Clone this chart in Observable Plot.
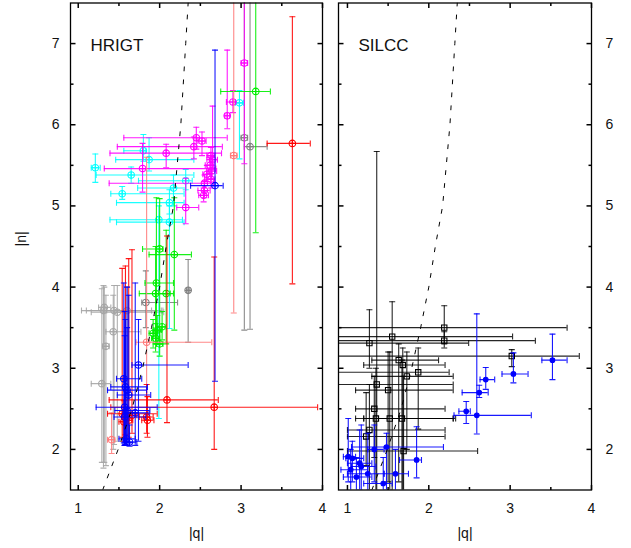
<!DOCTYPE html>
<html><head><meta charset="utf-8">
<script src="https://cdn.jsdelivr.net/npm/d3@7"></script>
<script src="https://cdn.jsdelivr.net/npm/@observablehq/plot@0.6"></script>
<style>
body{margin:0;background:#fff;}
#wrap{display:flex;width:631px;height:548px;overflow:hidden;}
svg{display:block;}
</style></head><body><div id="wrap"></div>
<script>
// ---- tick labels / axes ----
const xTicks = [1, 2, 3, 4];
const xMinorTicks = [1.5, 2.5, 3.5];
const yTicks = [2, 3, 4, 5, 6, 7];
const yMinorTicks = [2.5, 3.5, 4.5, 5.5, 6.5];
const panelNames = ["HRIGT", "SILCC"];
const xLabel = "|q|";
const yLabel = "|n|";

// ---- dashed reference curve (|q| at given |n|) ----
const curveN = [1.5, 2.0, 2.5, 3.0, 3.5, 4.0, 4.5, 5.0, 6.0, 7.0, 7.5];
const curveQ = [1.30, 1.49, 1.66, 1.79, 1.90, 2.00, 2.08, 2.17, 2.26, 2.32, 2.35];

// rows: [q, n, qLow, qHigh, nLow, nHigh]
const hrigtGray = [
  [1.32, 3.75, 1.25, 1.40, 1.84, 4.00],
  [1.31, 3.71, 1.04, 2.04, 1.77, 4.02],
  [1.44, 3.71, 1.10, 1.90, 2.06, 4.02],
  [1.48, 3.69, 1.16, 2.05, 2.10, 4.02],
  [1.60, 3.71, 1.35, 2.02, 2.20, 4.00],
  [1.43, 3.45, 1.34, 1.77, 2.00, 3.90],
  [1.34, 3.27, 1.30, 1.38, 1.80, 3.90],
  [1.29, 2.81, 1.16, 1.40, 1.84, 3.98]
];
const hrigtGrayDark = [
  [3.04, 5.84, 3.00, 3.08, 3.47, 8.00],
  [3.11, 5.73, 3.04, 3.32, 3.48, 8.00],
  [2.35, 3.96, 2.33, 2.37, 3.32, 4.34],
  [1.83, 3.81, 1.78, 2.22, 3.50, 4.20]
];
const hrigtCyan = [
  [1.21, 5.47, 1.16, 1.27, 5.29, 5.64],
  [1.65, 5.38, 1.22, 2.42, 5.28, 5.48],
  [1.80, 5.68, 1.56, 1.83, 5.55, 5.88],
  [1.87, 5.57, 1.46, 2.42, 5.43, 5.84],
  [1.54, 5.15, 1.40, 2.30, 5.08, 5.24],
  [2.17, 5.22, 1.73, 2.32, 5.00, 5.38],
  [2.12, 5.04, 1.47, 2.30, 4.90, 5.20],
  [1.99, 4.83, 1.39, 2.28, 2.38, 5.00],
  [2.12, 4.80, 1.47, 2.30, 3.49, 5.00],
  [2.98, 6.27, 2.93, 3.03, 5.58, 6.42],
  [2.32, 5.31, 1.74, 2.40, 5.20, 5.45]
];
const hrigtMagenta = [
  [3.04, 6.76, 3.00, 3.08, 5.52, 8.00],
  [2.90, 6.28, 2.82, 2.93, 6.15, 6.42],
  [2.83, 6.11, 2.80, 2.86, 5.95, 6.92],
  [2.45, 5.84, 1.56, 2.83, 5.70, 5.97],
  [2.52, 5.80, 2.47, 2.57, 5.62, 5.91],
  [2.42, 5.73, 1.48, 2.77, 5.58, 5.85],
  [2.08, 5.65, 1.39, 2.76, 5.47, 5.76],
  [2.63, 5.62, 2.58, 2.68, 5.50, 5.72],
  [2.65, 5.57, 2.58, 2.71, 5.47, 6.23],
  [2.62, 5.50, 2.56, 2.68, 5.40, 5.60],
  [2.64, 5.43, 2.58, 2.70, 5.33, 5.55],
  [2.58, 5.39, 2.53, 2.64, 5.30, 5.50],
  [2.63, 5.33, 2.57, 2.68, 5.22, 5.45],
  [2.55, 5.28, 1.38, 2.66, 5.18, 5.38],
  [2.55, 5.19, 2.47, 2.62, 5.10, 5.30],
  [2.54, 5.13, 2.48, 2.60, 5.05, 5.22],
  [1.79, 5.46, 1.32, 2.69, 5.17, 5.77],
  [2.32, 4.98, 2.21, 2.48, 4.78, 5.34]
];
const hrigtGreen = [
  [3.18, 6.41, 2.75, 3.36, 4.67, 8.00],
  [2.00, 4.47, 1.79, 2.04, 3.30, 5.09],
  [2.18, 4.40, 1.87, 2.39, 3.47, 5.10],
  [1.96, 4.05, 1.82, 2.17, 3.30, 5.10],
  [1.95, 3.92, 1.75, 2.13, 3.30, 4.50],
  [2.08, 3.92, 1.95, 2.17, 3.30, 4.70],
  [2.03, 3.51, 1.97, 2.08, 3.35, 3.70],
  [1.97, 3.47, 1.92, 2.02, 3.30, 3.65],
  [1.92, 3.43, 1.87, 1.97, 3.25, 3.60],
  [1.95, 3.37, 1.90, 2.00, 3.20, 3.55],
  [2.00, 3.30, 1.96, 2.04, 3.15, 3.45]
];
const hrigtRedPale = [
  [2.91, 5.62, 2.87, 2.95, 3.68, 8.00],
  [1.84, 3.32, 1.71, 2.64, 2.40, 5.60],
  [1.41, 2.12, 1.36, 1.45, 1.95, 2.45]
];
const hrigtRed = [
  [3.63, 5.77, 3.32, 3.85, 4.04, 7.33],
  [2.09, 2.61, 1.38, 2.72, 2.33, 4.63],
  [2.67, 2.52, 1.40, 3.94, 2.00, 4.37],
  [1.54, 2.44, 1.36, 1.97, 2.15, 4.23],
  [1.58, 2.40, 1.53, 1.63, 2.18, 4.26],
  [1.62, 2.36, 1.57, 1.67, 2.15, 4.35],
  [1.66, 2.42, 1.60, 1.72, 2.20, 4.46],
  [1.84, 2.40, 1.75, 1.92, 2.20, 2.80],
  [1.85, 2.36, 1.78, 1.93, 2.15, 2.65],
  [1.56, 2.34, 1.50, 1.62, 2.10, 2.60]
];
const hrigtBlue = [
  [2.68, 5.25, 2.38, 2.78, 2.84, 6.92],
  [1.74, 3.04, 1.66, 2.35, 2.10, 3.60],
  [1.56, 2.87, 1.47, 1.78, 2.08, 4.05],
  [1.58, 2.77, 1.40, 1.85, 2.06, 3.60],
  [1.60, 2.73, 1.36, 1.84, 2.10, 4.00],
  [1.62, 2.67, 1.48, 1.89, 2.08, 3.90],
  [1.57, 2.52, 1.22, 1.97, 2.05, 3.70],
  [1.60, 2.48, 1.45, 1.88, 2.08, 3.50],
  [1.57, 2.40, 1.44, 1.83, 2.05, 3.40],
  [1.59, 2.13, 1.50, 1.70, 2.05, 2.50],
  [1.63, 2.09, 1.55, 1.72, 2.04, 2.30],
  [1.70, 2.45, 1.55, 1.87, 2.05, 4.05]
];
const silccBlack = [
  [2.19, 3.50, 0.50, 3.70, 3.30, 3.77],
  [2.19, 3.34, 0.50, 3.31, 3.25, 3.45],
  [1.55, 3.39, 0.50, 3.03, 1.30, 3.82],
  [1.27, 3.31, 0.50, 2.49, 3.00, 3.72],
  [3.02, 3.15, 0.50, 3.85, 3.02, 3.23],
  [1.87, 2.95, 0.50, 2.25, 2.25, 3.25],
  [1.63, 3.10, 1.30, 2.12, 1.60, 3.30],
  [1.68, 3.04, 1.20, 2.20, 1.30, 3.25],
  [1.73, 2.90, 1.30, 2.30, 2.00, 3.20],
  [1.36, 2.80, 0.50, 2.30, 1.30, 5.67],
  [1.50, 2.73, 1.10, 2.30, 1.60, 3.20],
  [1.33, 2.50, 1.10, 2.20, 1.90, 2.90],
  [1.35, 2.38, 1.20, 2.30, 1.30, 3.00],
  [1.52, 2.38, 1.10, 2.30, 1.50, 3.20],
  [1.67, 2.38, 1.20, 2.33, 1.40, 3.10],
  [1.27, 2.24, 1.00, 2.20, 1.50, 2.80],
  [1.23, 2.16, 1.00, 2.20, 1.80, 2.70],
  [1.69, 1.98, 1.00, 2.60, 1.30, 2.90]
];
const silccBlue = [
  [3.52, 3.10, 3.39, 3.70, 2.86, 3.42],
  [3.04, 2.93, 2.90, 3.22, 2.82, 3.19],
  [2.70, 2.86, 2.63, 2.81, 2.74, 3.01],
  [2.62, 2.70, 2.41, 2.73, 2.64, 2.79],
  [2.59, 2.42, 2.31, 3.26, 2.19, 3.67],
  [2.46, 2.47, 2.37, 2.51, 2.32, 2.59],
  [1.85, 1.87, 1.64, 1.91, 1.65, 2.28],
  [1.01, 1.91, 0.95, 1.10, 1.60, 2.38],
  [1.06, 1.89, 0.98, 1.20, 1.60, 2.10],
  [1.15, 1.83, 1.00, 1.30, 1.50, 2.24],
  [1.04, 1.75, 0.92, 1.25, 1.40, 2.00],
  [1.17, 1.79, 1.05, 1.35, 1.40, 2.30],
  [1.25, 1.70, 1.00, 1.45, 1.30, 2.20],
  [1.11, 1.66, 0.95, 1.30, 1.40, 1.90],
  [1.44, 1.58, 1.20, 1.55, 1.30, 1.90],
  [1.48, 2.03, 1.05, 2.18, 1.50, 2.20],
  [1.59, 1.70, 1.45, 1.75, 1.30, 2.00],
  [1.33, 2.00, 1.25, 1.45, 1.60, 2.30]
];

// ---- helpers ----
const FONT = "'Liberation Sans', Arial, Helvetica, sans-serif";
const rows = arr => arr.map(([q, n, qlo, qhi, nlo, nhi]) => ({q, n, qlo, qhi, nlo, nhi}));
const curve = curveN.map((n, i) => ({n, q: curveQ[i]}));
const seg = (dx, dy) => ({draw(ctx) { ctx.moveTo(0, 0); ctx.lineTo(dx, dy); }});
const hcap = {draw(ctx) { ctx.moveTo(-3, 0); ctx.lineTo(3, 0); }};
const vcap = {draw(ctx) { ctx.moveTo(0, -3); ctx.lineTo(0, 3); }};
const circlePlus = {draw(ctx) {
  const r = 3.3;
  ctx.moveTo(r, 0); ctx.arc(0, 0, r, 0, 2 * Math.PI);
  ctx.moveTo(-r, 0); ctx.lineTo(r, 0); ctx.moveTo(0, -r); ctx.lineTo(0, r);
}};

function series(arr, color, marker, opts = {}) {
  const d = rows(arr);
  const so = opts.opacity ?? 0.9;
  const common = {stroke: color, strokeOpacity: so, strokeWidth: 1.1, fill: "none", clip: true};
  return [
    Plot.ruleY(d, {y: "n", x1: "qlo", x2: "qhi", ...common}),
    Plot.ruleX(d, {x: "q", y1: "nlo", y2: "nhi", ...common}),
    Plot.dot(d, {x: "qlo", y: "n", symbol: vcap, ...common}),
    Plot.dot(d, {x: "qhi", y: "n", symbol: vcap, ...common}),
    Plot.dot(d, {x: "q", y: "nlo", symbol: hcap, ...common}),
    Plot.dot(d, {x: "q", y: "nhi", symbol: hcap, ...common}),
    Plot.dot(d, {x: "q", y: "n", symbol: marker, r: opts.r ?? 3.3,
      stroke: color, strokeWidth: 1.1, fill: opts.fill ?? "none", clip: true})
  ];
}

function axesMarks(xd, yd, side) {
  const [x0, x1] = xd, [y0, y1] = yd;
  const M = 5, m = 3;
  const ax = [
    Plot.dot(xTicks, {x: d => d, y: () => y0, symbol: seg(0, -M), stroke: "black"}),
    Plot.dot(xTicks, {x: d => d, y: () => y1, symbol: seg(0, M), stroke: "black"}),
    Plot.dot(xMinorTicks, {x: d => d, y: () => y0, symbol: seg(0, -m), stroke: "black"}),
    Plot.dot(xMinorTicks, {x: d => d, y: () => y1, symbol: seg(0, m), stroke: "black"}),
    Plot.dot(yTicks, {y: d => d, x: () => x0, symbol: seg(M, 0), stroke: "black"}),
    Plot.dot(yTicks, {y: d => d, x: () => x1, symbol: seg(-M, 0), stroke: "black"}),
    Plot.dot(yMinorTicks, {y: d => d, x: () => x0, symbol: seg(m, 0), stroke: "black"}),
    Plot.dot(yMinorTicks, {y: d => d, x: () => x1, symbol: seg(-m, 0), stroke: "black"}),
    Plot.text(xTicks, {x: d => d, y: () => y0, text: d => String(d), dy: 19,
      lineAnchor: "middle", fontSize: 14, fill: "#111"}),
    Plot.text([xLabel], {frameAnchor: "bottom", text: d => d, dy: 44,
      lineAnchor: "middle", fontSize: 14, fill: "#111"})
  ];
  if (side === "left") {
    ax.push(Plot.text(yTicks, {x: () => x0, y: d => d, text: d => String(d), dx: -11,
      textAnchor: "end", lineAnchor: "middle", fontSize: 14, fill: "#111"}));
    ax.push(Plot.text([yLabel], {frameAnchor: "left", text: d => d, dx: -49, rotate: -90,
      lineAnchor: "middle", fontSize: 14, fill: "#111"}));
  } else {
    ax.push(Plot.text(yTicks, {x: () => x1, y: d => d, text: d => String(d), dx: 14,
      textAnchor: "start", lineAnchor: "middle", fontSize: 14, fill: "#111"}));
  }
  return ax;
}

function panel({name, width, marginLeft, marginRight, xDomain, layers, side}) {
  const yDomain = [1.5, 7.5];
  return Plot.plot({
    width, height: 548,
    marginLeft, marginRight, marginTop: 2.5, marginBottom: 58.5,
    style: {fontFamily: FONT, fontSize: "14px", background: "white", overflow: "visible"},
    x: {domain: xDomain, axis: null},
    y: {domain: yDomain, axis: null},
    marks: [
      ...layers,
      Plot.line(curve, {x: "q", y: "n", stroke: "black", strokeWidth: 1,
        strokeDasharray: "4,9", clip: true}),
      Plot.frame({stroke: "black", strokeWidth: 1.3}),
      ...axesMarks(xDomain, yDomain, side),
      Plot.text([name], {frameAnchor: "top-left", text: d => d, dx: 20, dy: 48,
        textAnchor: "start", lineAnchor: "bottom", fontSize: 17, fill: "#111"})
    ]
  });
}

const left = panel({
  name: panelNames[0], width: 330, marginLeft: 70, marginRight: 8,
  xDomain: [0.905, 4], side: "left",
  layers: [
    ...series(hrigtGray, "#a6a6a6", circlePlus),
    ...series(hrigtGrayDark, "#808080", circlePlus),
    ...series(hrigtCyan, "#00ffff", circlePlus),
    ...series(hrigtMagenta, "#ff00ff", circlePlus),
    ...series(hrigtGreen, "#00ee00", circlePlus),
    ...series(hrigtRedPale, "#ff7b7b", circlePlus),
    ...series(hrigtRed, "#ff0000", circlePlus),
    ...series(hrigtBlue, "#0000ff", circlePlus)
  ]
});

const right = panel({
  name: panelNames[1], width: 301, marginLeft: 8, marginRight: 40,
  xDomain: [0.89, 4], side: "right",
  layers: [
    ...series(silccBlack, "#000000", "square", {r: 3, opacity: 0.85}),
    ...series(silccBlue, "#0000ff", "circle", {r: 2.3, fill: "#0000ff"})
  ]
});

document.getElementById("wrap").append(left, right);
</script>
</body></html>
